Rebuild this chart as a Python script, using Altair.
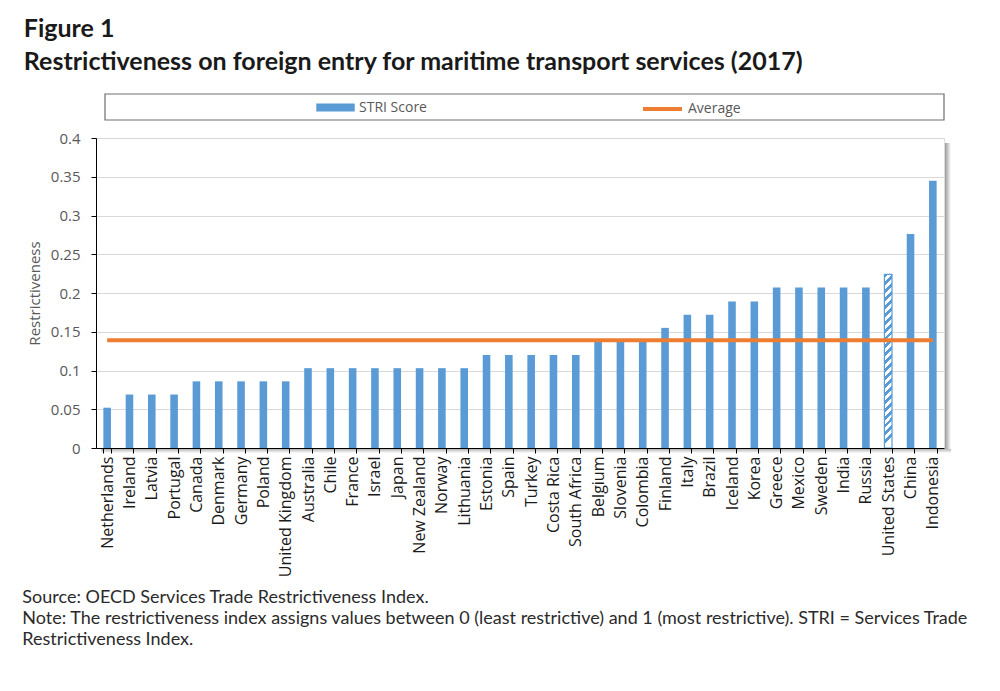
import altair as alt
import pandas as pd

countries = ["Netherlands", "Ireland", "Latvia", "Portugal", "Canada", "Denmark",
             "Germany", "Poland", "United Kingdom", "Australia", "Chile", "France",
             "Israel", "Japan", "New Zealand", "Norway", "Lithuania", "Estonia",
             "Spain", "Turkey", "Costa Rica", "South Africa", "Belgium", "Slovenia",
             "Colombia", "Finland", "Italy", "Brazil", "Iceland", "Korea", "Greece",
             "Mexico", "Sweden", "India", "Russia", "United States", "China", "Indonesia"]
scores = [0.052, 0.069, 0.069, 0.069, 0.086, 0.086,
          0.086, 0.086, 0.086, 0.103, 0.103, 0.103,
          0.103, 0.103, 0.103, 0.103, 0.103, 0.120,
          0.120, 0.120, 0.120, 0.120, 0.138, 0.138,
          0.138, 0.155, 0.172, 0.172, 0.189, 0.189, 0.207,
          0.207, 0.207, 0.207, 0.207, 0.224, 0.276, 0.345]
average_value = 0.139
hatched_countries = ["United States"]
y_ticks = [0, 0.05, 0.1, 0.15, 0.2, 0.25, 0.3, 0.35, 0.4]
bar_series = ["STRI Score"]
line_series = ["Average"]

title_lines = ["Figure 1",
               "Restrictiveness on foreign entry for maritime transport services (2017)"]
note_lines = ["Source: OECD Services Trade Restrictiveness Index.",
              "Note: The restrictiveness index assigns values between 0 (least restrictive) and 1 (most restrictive). STRI = Services Trade",
              "Restrictiveness Index."]

df = pd.DataFrame({"country": countries, "score": scores})
df["avg"] = average_value

W, H = 848, 310
BLUE = "#5b9bd5"
ORANGE = "#ed7d31"
AXIS_GRAY = "#595959"

legend_common = dict(title=None, orient="none", direction="horizontal",
                     padding=0, labelOffset=4, labelFont="Open Sans", labelFontSize=14,
                     labelColor=AXIS_GRAY)

bar_legend = alt.Legend(legendX=220, legendY=-50, symbolType="M-1,-0.21L1,-0.21L1,0.21L-1,0.21Z",
                        symbolSize=1480, symbolStrokeWidth=0, symbolOpacity=1,
                        **legend_common)
line_legend = alt.Legend(legendX=545, legendY=-50.5, symbolType="stroke", symbolSize=1520,
                         symbolStrokeWidth=4, symbolOpacity=1, **legend_common)

x_enc = alt.X(
    "country:N", sort=countries,
    scale=alt.Scale(paddingInner=0.66, paddingOuter=0.33),
    axis=alt.Axis(title=None, labelAngle=-90, tickBand="extent",
                  labelFont="Open Sans", labelFontSize=16, labelColor="#1a1a1a",
                  domainColor="#000000", tickColor="#000000", tickSize=5,
                  labelPadding=3, grid=False, zindex=1, labelOverlap=False),
)
y_axis = alt.Axis(title="Restrictiveness", values=y_ticks, format="~g",
                  labelFont="Open Sans", labelFontSize=15, labelColor=AXIS_GRAY,
                  titleFont="Open Sans", titleFontSize=15, titleColor=AXIS_GRAY,
                  titleFontWeight="normal", titlePadding=8,
                  domainColor="#000000", tickColor="#000000", tickSize=5,
                  labelPadding=11, gridColor="#d9d9d9")
y_scale = alt.Scale(domain=[0, 0.4], nice=False)

base = alt.Chart(df)

# decorative legend frame and plot shadow
frame = alt.Chart(alt.Data(values=[{}])).mark_rect(
    fill="white", stroke="#6e6e6e", strokeWidth=1.2
).encode(x=alt.value(9), x2=alt.value(848), y=alt.value(-44), y2=alt.value(-18))

shadow_r = alt.Chart(alt.Data(values=[{}])).mark_rect(
    fill=alt.LinearGradient(gradient="linear", x1=0, y1=0, x2=1, y2=0,
                            stops=[alt.GradientStop(offset=0, color="#9a9a9a"),
                                   alt.GradientStop(offset=1, color="#ffffff")])
).encode(x=alt.value(W + 1), x2=alt.value(W + 7), y=alt.value(5), y2=alt.value(H + 5))
shadow_b = alt.Chart(alt.Data(values=[{}])).mark_rect(
    fill=alt.LinearGradient(gradient="linear", x1=0, y1=0, x2=0, y2=1,
                            stops=[alt.GradientStop(offset=0, color="#b5b5b5"),
                                   alt.GradientStop(offset=1, color="#ffffff")])
).encode(x=alt.value(5), x2=alt.value(W + 7), y=alt.value(H + 1), y2=alt.value(H + 5))

hl = str(hatched_countries).replace("'", '"')
not_hatched = "indexof(%s, datum.country) < 0" % hl
is_hatched = "indexof(%s, datum.country) >= 0" % hl

bars = base.transform_filter(not_hatched).transform_calculate(
    series="'STRI Score'"
).mark_bar().encode(
    x=x_enc,
    y=alt.Y("score:Q", scale=y_scale, axis=y_axis),
    fill=alt.Fill("series:N", scale=alt.Scale(domain=bar_series, range=[BLUE]),
                  legend=bar_legend),
)

n_stripes = 22
stops = []
for i in range(n_stripes):
    a = i / n_stripes
    m = (i + 0.5) / n_stripes
    b = (i + 1) / n_stripes
    stops += [alt.GradientStop(offset=a, color=BLUE), alt.GradientStop(offset=m, color=BLUE),
              alt.GradientStop(offset=m, color="#ffffff"), alt.GradientStop(offset=b, color="#ffffff")]
hatch_fill = alt.LinearGradient(gradient="linear", x1=0, y1=0, x2=0.044, y2=1, stops=stops)

hatched = base.transform_filter(is_hatched).mark_bar(
    fill=hatch_fill, stroke=BLUE, strokeWidth=1.2
).encode(
    x=x_enc,
    y=alt.Y("score:Q", scale=y_scale, axis=y_axis),
)

avg_line = base.transform_calculate(series="'Average'").mark_line(strokeWidth=4).encode(
    x=x_enc,
    y=alt.Y("avg:Q", scale=y_scale, axis=y_axis),
    stroke=alt.Stroke("series:N", scale=alt.Scale(domain=line_series, range=[ORANGE]),
                      legend=line_legend),
)

main = alt.layer(frame, shadow_r, shadow_b, bars, hatched, avg_line).properties(
    width=W, height=H,
    title=alt.TitleParams(text=note_lines, orient="bottom", anchor="start", frame="bounds",
                          font="Lato", fontSize=18, fontWeight="normal", color="#2b2b2b",
                          lineHeight=21, offset=12, dx=-5),
)

chart = alt.vconcat(main).properties(
    title=alt.TitleParams(text=title_lines, anchor="start", font="Lato", fontSize=25,
                          fontWeight="bold", color="#1a1a1a", lineHeight=33, offset=13, dx=2),
    padding={"left": 13, "top": 8, "right": 5, "bottom": 5},
).configure_view(stroke="#d9d9d9").configure(background="white")

chart.save("out.html", embed_options={"renderer": "svg", "actions": False})
